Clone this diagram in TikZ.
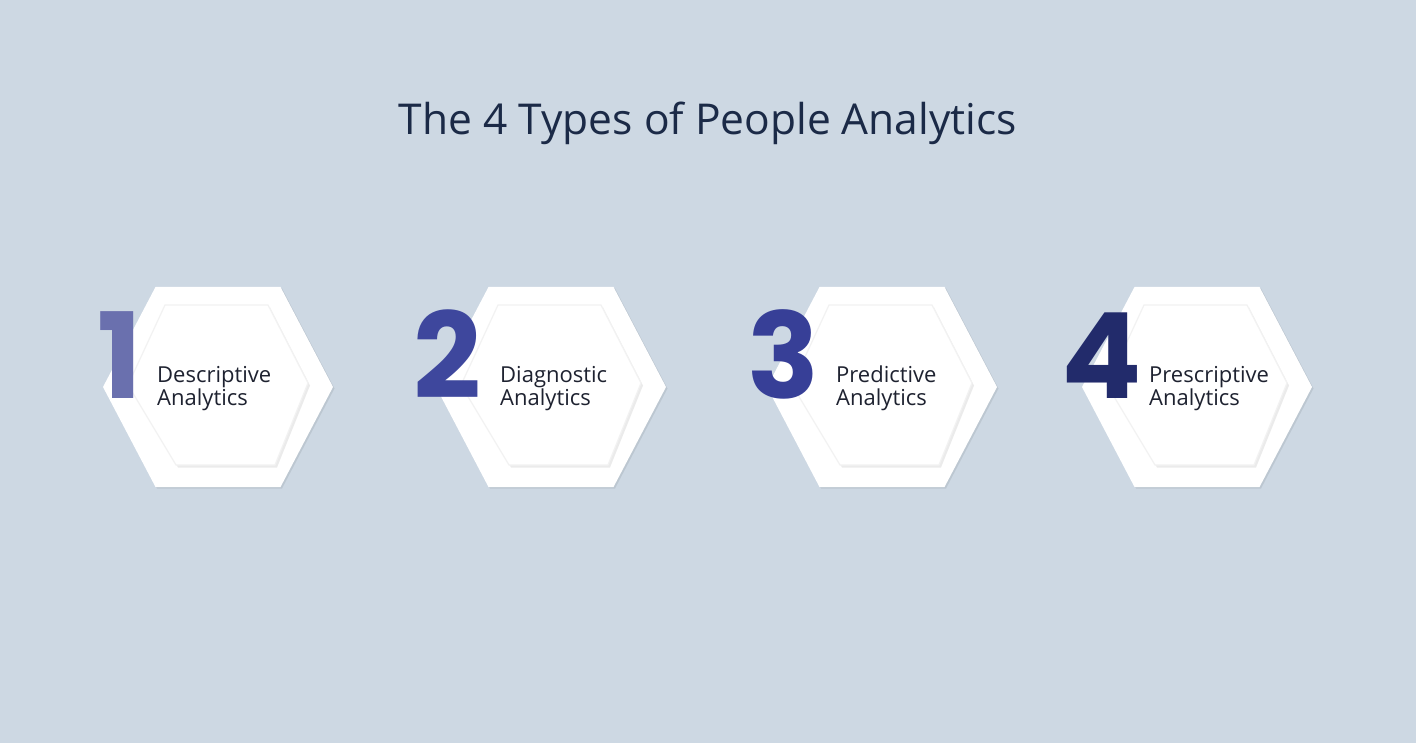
\documentclass[tikz,border=0pt]{standalone}
\usepackage{fontspec}
\setmainfont{Open Sans}[Ligatures={NoCommon,TeX}]
\newfontfamily\numfont{Poppins}
\usetikzlibrary{shadows}
\definecolor{bg}{HTML}{CDD8E3}
\definecolor{titlecol}{HTML}{1B2A47}
\definecolor{labcol}{HTML}{1E2230}
\definecolor{nA}{HTML}{6A70AE}
\definecolor{nB}{HTML}{3E479D}
\definecolor{nC}{HTML}{373F97}
\definecolor{nD}{HTML}{222B6B}
\tikzset{
  outerhex/.style={fill=white, drop shadow={shadow xshift=1.5pt, shadow yshift=-1.5pt, opacity=0.08, fill=black}},
  innerhex/.style={fill=white, draw=black!5, line width=1.2pt, drop shadow={shadow xshift=2pt, shadow yshift=-2.5pt, opacity=0.08, fill=black}},
  numtext/.style={anchor=base west, inner sep=0pt, font=\numfont\bfseries\fontsize{119}{119}\selectfont},
  labtext/.style={anchor=base west, inner sep=0pt, text=labcol, font=\fontsize{22}{24}\selectfont},
}
\begin{document}
\begin{tikzpicture}[x=1pt,y=-1pt]
\fill[bg] (0,0) rectangle (1416,743);
\useasboundingbox (0,0) rectangle (1416,743);
\node[anchor=base, inner sep=0pt, text=titlecol, font=\fontsize{42.5}{48}\selectfont] (title) at (708,135) {The 4 Types of People Analytics};
\foreach \n/\cx/\col/\nx/\tx/\a in {1/218/nA/97/157/Descriptive, 2/551/nB/413/500/Diagnostic, 3/882/nC/747/836/Predictive, 4/1197/nD/1061/1149/Prescriptive}{
  \coordinate (h\n) at (\cx,387);
  \begin{scope}[shift={(\cx,387)}]
    \path[outerhex] (-115,0) -- (-62.5,-100) -- (62.5,-100) -- (115,0) -- (62.5,100) -- (-62.5,100) -- cycle;
    \path[innerhex] (-90,-2) -- (-53,-82) -- (50,-82) -- (90,-4) -- (57,78) -- (-42,78) -- cycle;
  \end{scope}
  \node[numtext, text=\col] (num\n) at (\nx,398) {\n};
  \node[labtext] (laba\n) at (\tx,382) {\a};
  \node[labtext] (labb\n) at (\tx,405) {Analytics};
}
\end{tikzpicture}
\end{document}
